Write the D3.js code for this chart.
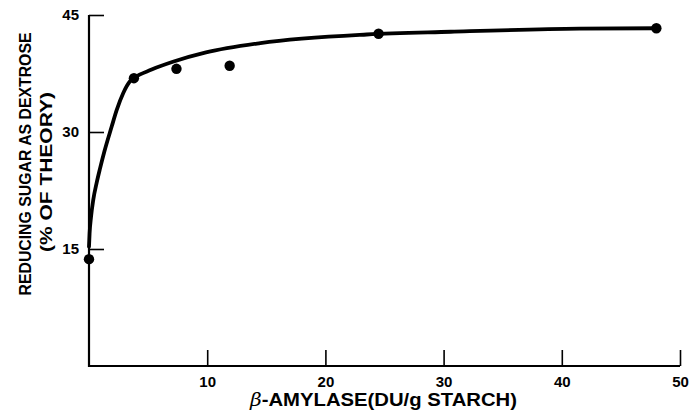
<!DOCTYPE html>
<html>
<head>
<meta charset="utf-8">
<script src="https://cdn.jsdelivr.net/npm/d3@7"></script>
<style>
  html, body { margin: 0; padding: 0; background: #fff; }
  svg { display: block; }
  text { font-family: "Liberation Sans", Arial, Helvetica, sans-serif; font-weight: bold; fill: #000; }
</style>
</head>
<body>
<svg id="chart" width="699" height="413"></svg>
<script>
// Measured points: beta-amylase dose vs reducing sugar
const doseValues = [0, 3.8, 7.4, 11.9, 24.5, 48.0];
const sugarValues = [13.7, 36.9, 38.1, 38.5, 42.6, 43.3];

// Fitted curve, sampled along its path
const curveDose  = [0, 0.05, 0.17, 0.36, 0.65, 0.93, 1.3, 1.92, 2.34, 2.9, 3.47, 3.83, 5.3, 7.1, 9.9, 14.5, 23.5, 30.6, 41.5, 48.0];
const curveSugar = [15.3, 17.0, 19.1, 21.3, 23.5, 25.3, 27.5, 30.7, 32.8, 35.0, 36.5, 36.95, 38.0, 39.0, 40.2, 41.4, 42.5, 42.85, 43.25, 43.3];

// Axis ticks
const xTicks = [10, 20, 30, 40, 50];
const yTicks = [15, 30, 45];

const svg = d3.select("#chart");

const x = d3.scaleLinear().domain([0, 50]).range([89, 680]);
const y = d3.scaleLinear().domain([0, 45]).range([366, 15]);

// Axes with inward ticks
const xAxis = d3.axisBottom(x).tickValues(xTicks).tickSizeInner(-16).tickSizeOuter(0).tickPadding(10);
const yAxis = d3.axisLeft(y).tickValues(yTicks).tickSizeInner(-15).tickSizeOuter(0).tickPadding(10);

const gx = svg.append("g").attr("transform", `translate(0,${y(0)})`).call(xAxis);
const gy = svg.append("g").attr("transform", `translate(${x(0)},0)`).call(yAxis);

gx.select(".domain").attr("stroke", "#000").attr("stroke-width", 2.2)
  .attr("d", `M${x(0) - 1},0H${x(50)}`);
gy.select(".domain").attr("stroke", "#000").attr("stroke-width", 2.2)
  .attr("d", `M0,${y(45)}V${y(0) + 1}`);
svg.selectAll(".tick line").attr("stroke", "#000").attr("stroke-width", 1.6);
svg.selectAll(".tick text").attr("font-size", 15).attr("font-family", null).attr("fill", "#000");

// Fitted curve
const curvePts = curveDose.map((d, i) => [d, curveSugar[i]]);
const line = d3.line().x(d => x(d[0])).y(d => y(d[1])).curve(d3.curveMonotoneX);
svg.append("path")
  .datum(curvePts)
  .attr("d", line)
  .attr("fill", "none")
  .attr("stroke", "#000")
  .attr("stroke-width", 3.8)
  .attr("stroke-linecap", "round")
  .attr("stroke-linejoin", "round");

// Data markers
svg.selectAll("circle.pt")
  .data(doseValues.map((d, i) => [d, sugarValues[i]]))
  .join("circle")
  .attr("class", "pt")
  .attr("cx", d => x(d[0]))
  .attr("cy", d => y(d[1]))
  .attr("r", 5.2)
  .attr("fill", "#000");

// Y axis title (two lines, rotated)
const yTitle = svg.append("g").attr("transform", "rotate(-90)");
yTitle.append("text")
  .attr("x", -164).attr("y", 31)
  .attr("text-anchor", "middle")
  .attr("font-size", 17)
  .attr("textLength", 263).attr("lengthAdjust", "spacingAndGlyphs")
  .text("REDUCING SUGAR AS DEXTROSE");
yTitle.append("text")
  .attr("x", -172).attr("y", 51.5)
  .attr("text-anchor", "middle")
  .attr("font-size", 17)
  .attr("textLength", 160).attr("lengthAdjust", "spacingAndGlyphs")
  .text("(% OF THEORY)");

// X axis title
const xTitle = svg.append("text")
  .attr("x", 383.5)
  .attr("y", 406)
  .attr("text-anchor", "middle")
  .attr("font-size", 18)
  .attr("textLength", 267).attr("lengthAdjust", "spacingAndGlyphs");
xTitle.append("tspan").attr("font-style", "italic").attr("font-weight", "normal")
  .attr("font-family", "'DejaVu Serif', serif").text("β");
xTitle.append("tspan").text("-AMYLASE(DU/g STARCH)");
</script>
</body>
</html>
